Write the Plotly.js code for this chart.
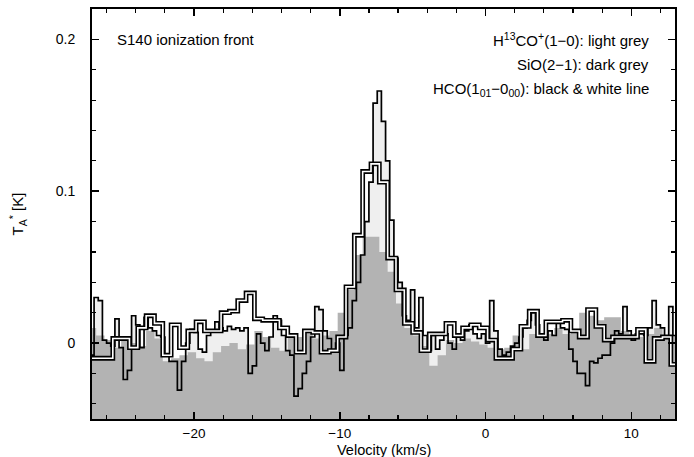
<!DOCTYPE html>
<html>
<head>
<meta charset="utf-8">
<script src="https://cdn.plot.ly/plotly-3.0.1.min.js"></script>
<style>html,body{margin:0;padding:0;background:#fff;}#chart{width:694px;height:457px;}</style>
</head>
<body>
<div id="chart"></div>
<script>
// H13CO+(1-0) spectrum: first channel velocity and channel width (km/s), then T_A* values (K)
const h13coV0 = -27.0;
const h13coDv = 0.2857;
const h13coT = [
 -0.008, 0.030, 0.028, 0.002, 0.000, -0.002, 0.016, -0.003, -0.024, -0.018,
  0.018, 0.012, -0.003, 0.017, 0.010, 0.008, 0.005, 0.004, -0.008, -0.012,
 -0.012, -0.031, -0.012, 0.000, 0.009, 0.007, -0.004, -0.006, 0.005, 0.008,
  0.014, 0.010, 0.008, 0.011, 0.009, 0.010, 0.008, 0.010, -0.020, -0.015,
  0.006, 0.000, -0.005, 0.004, 0.018, 0.015, 0.005, -0.005, -0.008, -0.035,
 -0.030, -0.020, -0.012, 0.004, 0.024, 0.022, 0.008, 0.003, -0.005, 0.000,
 -0.018, 0.005, 0.010, 0.028, 0.040, 0.058, 0.080, 0.106, 0.158, 0.166,
  0.146, 0.120, 0.081, 0.056, 0.040, 0.018, 0.015, 0.035, 0.010, 0.030,
  0.005, -0.005, 0.005, -0.004, 0.002, 0.006, 0.000, -0.004, 0.004, 0.002,
  0.008, 0.012, 0.006, 0.003, 0.006, 0.000, 0.028, 0.008, -0.004, -0.008,
 -0.006, -0.002, 0.000, 0.004, 0.010, 0.015, 0.020, 0.012, 0.006, 0.002,
  0.008, 0.005, 0.014, 0.010, 0.009, -0.004, -0.012, -0.020, -0.020, -0.028,
 -0.012, -0.013, -0.010, -0.008, -0.008, 0.000, 0.008, 0.006, 0.024, 0.008,
  0.002, 0.006, 0.006, 0.005, 0.010, 0.028, 0.012, 0.010, 0.004, 0.024,
  0.005
];

// SiO(2-1) spectrum
const sioV0 = -27.0;
const sioDv = 0.5714;
const sioT = [
  0.010, 0.005, 0.002, -0.003, 0.002, 0.000, -0.002, 0.008, 0.003, -0.012,
 -0.010, -0.008, -0.006, -0.010, -0.012, -0.006, -0.002, 0.000, -0.004, -0.001,
  0.008, 0.004, -0.003, -0.005, 0.005, 0.004, 0.008, 0.003, 0.005, 0.008,
  0.020, 0.035, 0.058, 0.070, 0.070, 0.060, 0.047, 0.026, 0.010, 0.005,
 -0.002, -0.015, -0.008, 0.002, 0.000, 0.003, 0.001, -0.001, -0.003, -0.004,
 -0.003, 0.005, -0.004, 0.006, 0.004, 0.006, 0.010, 0.006, 0.008, 0.020,
  0.018, 0.015, 0.017, 0.017, 0.008, 0.006, 0.004, 0.006, 0.010, 0.005,
  0.005
];

// HCO(1_01-0_00) spectrum
const hcoV0 = -27.0;
const hcoDv = 0.5714;
const hcoT = [
 -0.010, -0.010, -0.010, 0.003, 0.003, -0.003, 0.010, 0.018, 0.013, -0.008,
  0.012, -0.003, 0.008, 0.014, 0.008, 0.008, 0.020, 0.021, 0.028, 0.033,
  0.016, 0.015, 0.015, 0.010, 0.005, -0.006, 0.008, 0.007, -0.006, -0.005,
  0.004, 0.037, 0.071, 0.113, 0.118, 0.106, 0.056, 0.035, 0.013, 0.007,
 -0.005, 0.006, 0.006, 0.013, 0.005, 0.010, 0.012, 0.010, 0.002, -0.010,
 -0.010, -0.004, 0.011, 0.021, 0.005, 0.014, 0.014, 0.015, 0.008, 0.004,
  0.022, 0.011, 0.002, 0.004, 0.004, 0.004, 0.009, -0.012, 0.003, 0.004,
 -0.014
];

// Text
const labelSource = "S140 ionization front";
const labelH13co = "H<sup>13</sup>CO<sup>+</sup>(1\u22120): light grey";
const labelSio = "SiO(2\u22121): dark grey";
const labelHco = "HCO(1<sub>01</sub>\u22120<sub>00</sub>): black &amp; white line";
const xTitle = "Velocity (km/s)";
const yTitle = "T<sub>A</sub><sup>*</sup> [K]";

const FLOOR = -1; // helper floor for filled histograms (below visible range)
const floorOf = arr => arr.map(() => FLOOR);

const FONT = "Liberation Sans, Arial, sans-serif";

const traces = [
  {type:'scatter', mode:'lines', x0:h13coV0, dx:h13coDv, y:floorOf(h13coT),
   line:{width:0, shape:'hvh'}, hoverinfo:'skip', showlegend:false},
  {type:'scatter', mode:'lines', x0:h13coV0, dx:h13coDv, y:h13coT, name:'H13CO+ fill',
   line:{width:0, shape:'hvh'}, fill:'tonexty', fillcolor:'#efefef', showlegend:false},
  {type:'scatter', mode:'lines', x0:sioV0, dx:sioDv, y:floorOf(sioT),
   line:{width:0, shape:'hvh'}, hoverinfo:'skip', showlegend:false},
  {type:'scatter', mode:'lines', x0:sioV0, dx:sioDv, y:sioT, name:'SiO',
   line:{width:0, shape:'hvh'}, fill:'tonexty', fillcolor:'#b3b3b3', showlegend:false},
  {type:'scatter', mode:'lines', x0:h13coV0, dx:h13coDv, y:h13coT, name:'H13CO+',
   line:{width:1.7, color:'#000', shape:'hvh'}, showlegend:false},
  {type:'scatter', mode:'lines', x0:hcoV0, dx:hcoDv, y:hcoT, name:'HCO outer',
   line:{width:4.8, color:'#000', shape:'hvh'}, showlegend:false},
  {type:'scatter', mode:'lines', x0:hcoV0, dx:hcoDv, y:hcoT, name:'HCO',
   line:{width:1.6, color:'#fff', shape:'hvh'}, showlegend:false}
];

const layout = {
  width:694, height:457,
  margin:{l:92, r:19, t:9, b:38},
  paper_bgcolor:'#fff', plot_bgcolor:'#fff',
  font:{family:FONT, size:14, color:'#000'},
  showlegend:false,
  xaxis:{
    range:[-27, 13], tick0:0, dtick:10,
    ticks:'inside', ticklen:7, tickwidth:1.5, tickcolor:'#000',
    minor:{dtick:2, ticks:'inside', ticklen:4, tickwidth:1.2, tickcolor:'#000'},
    showline:true, linewidth:2, linecolor:'#000', mirror:'ticks',
    showgrid:false, zeroline:false,
    ticklabelstandoff:1,
    tickfont:{family:FONT, size:13.5}
  },
  yaxis:{
    range:[-0.05, 0.22], tick0:0, dtick:0.1,
    ticks:'inside', ticklen:7, tickwidth:1.5, tickcolor:'#000',
    minor:{dtick:0.02, ticks:'inside', ticklen:4, tickwidth:1.2, tickcolor:'#000'},
    showline:true, linewidth:2, linecolor:'#000', mirror:'ticks',
    showgrid:false, zeroline:false,
    ticklabelstandoff:12,
    tickfont:{family:FONT, size:14},
    title:{text:yTitle, font:{family:FONT, size:15}, standoff:28}
  },
  annotations:[
    {x:0.5, y:-0.0755, xref:'paper', yref:'paper', text:xTitle, showarrow:false, xanchor:'center', yanchor:'middle', font:{family:FONT, size:14.5}},
    {x:-25.4, y:0.2, xref:'x', yref:'y', text:labelSource, showarrow:false, xanchor:'left', yanchor:'middle', font:{family:FONT, size:15}},
    {x:11.35, y:0.2, xref:'x', yref:'y', text:labelH13co, showarrow:false, xanchor:'right', yanchor:'middle', font:{family:FONT, size:15}},
    {x:11.35, y:0.1835, xref:'x', yref:'y', text:labelSio, showarrow:false, xanchor:'right', yanchor:'middle', font:{family:FONT, size:15}},
    {x:11.35, y:0.167, xref:'x', yref:'y', text:labelHco, showarrow:false, xanchor:'right', yanchor:'middle', font:{family:FONT, size:15}}
  ]
};

Plotly.newPlot('chart', traces, layout, {staticPlot:true, displayModeBar:false});
</script>
</body>
</html>
